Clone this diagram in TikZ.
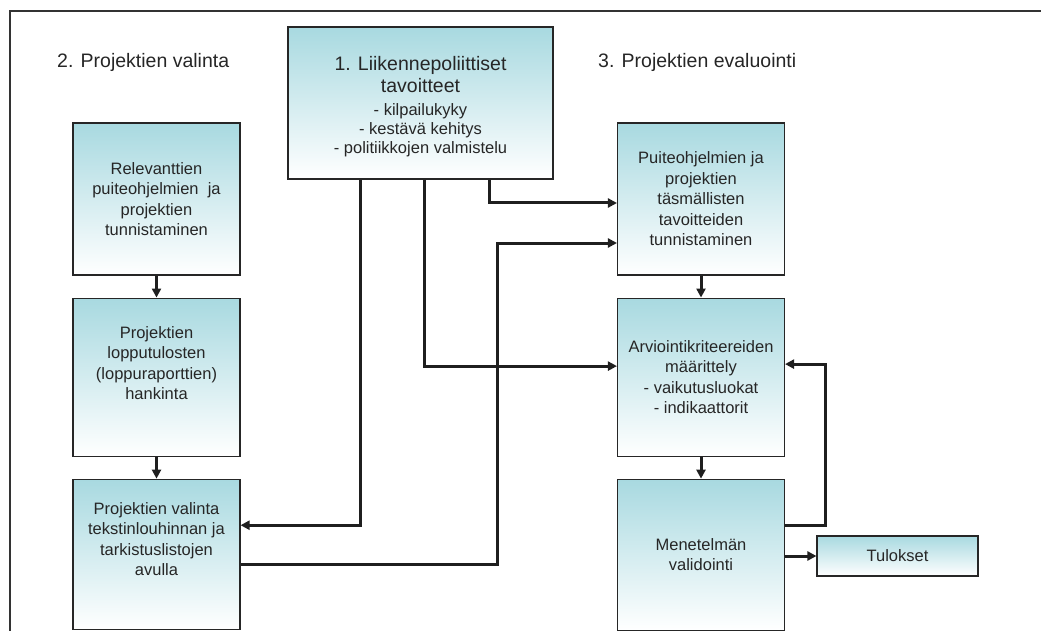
\documentclass[tikz,border=0pt]{standalone}
\usepackage{fontspec}
\setmainfont{Liberation Sans}
\usepackage{xcolor}
\usetikzlibrary{arrows.meta, positioning, calc}

\definecolor{boxteal}{RGB}{168,217,224}
\definecolor{inkgray}{RGB}{38,38,38}
\newcommand{\subsize}{\fontsize{16.5}{19}\selectfont}

\begin{document}
\begin{tikzpicture}[
        x=1pt, y=-1pt,
        node distance=22pt,
        box/.style={rectangle, draw=inkgray, line width=1.1pt, top color=boxteal, bottom color=white,
                    minimum width=167pt, minimum height=152pt, align=center, text=inkgray,
                    font=\fontsize{16.5}{20.5}\selectfont, inner sep=0pt},
        heading/.style={anchor=base west, text=inkgray, font=\fontsize{19.5}{23}\selectfont, inner sep=0pt},
        link/.style={line width=3pt, draw=black!88},
        arrow/.style={link, ->},
        >={Triangle[length=9pt, width=9pt]}
    ]
    \useasboundingbox (0,0) rectangle (1041,631);

    % frame
    \draw[line width=1.4pt, black!80] (10,631) -- (10,11) -- (1041,11);

    \node (valinta) [heading] at (57,68) {2. Projektien valinta};
    \node (evaluointi) [heading] at (598,68) {3. Projektien evaluointi};

    \node (goals) [box, minimum width=265pt, minimum height=152pt,
                   font=\fontsize{19.5}{22}\selectfont] at (420.5,103)
        {\rule{0pt}{21pt}1. Liikennepoliittiset\\tavoitteet\\[1pt]
         \subsize - kilpailukyky\\[-3pt]\subsize - kestävä kehitys\\[-3pt]\subsize - politiikkojen valmistelu};

    % left column
    \node (ident) [box] at (156.5,199) {Relevanttien\\puiteohjelmien\ \ ja\\projektien\\tunnistaminen};
    \node (hank) [box, below=of ident, minimum height=158pt] {Projektien\\lopputulosten\\(loppuraporttien)\\hankinta\\[8pt]};
    \node (valin) [box, below=of hank, minimum height=150pt] {Projektien valinta\\tekstinlouhinnan ja\\tarkistuslistojen\\avulla\\[10pt]};

    % right column
    \node (tavoit) [box] at (701,199) {Puiteohjelmien ja\\projektien\\täsmällisten\\tavoitteiden\\tunnistaminen};
    \node (krit) [box, below=of tavoit, minimum height=158pt] {Arviointikriteereiden\\määrittely\\- vaikutusluokat\\- indikaattorit};
    \node (valid) [box, below=of krit, minimum height=151pt] {Menetelmän\\validointi};
    \node (tulos) [box, minimum width=161pt, minimum height=40pt] at (897.5,556) {Tulokset};

    \draw[arrow] (ident) -- (hank);
    \draw[arrow] (hank) -- (valin);
    \draw[arrow] (tavoit) -- (krit);
    \draw[arrow] (krit) -- (valid);

    \draw[arrow] ([xshift=-60.5pt]goals.south) |- ([yshift=29pt]valin.east);
    \draw[arrow] ([xshift=3.5pt]goals.south) |- ([yshift=11pt]krit.east -| krit.west);
    \draw[arrow] ([xshift=68.5pt]goals.south) |- ([yshift=-4pt]tavoit.west);
    \draw[arrow] ([yshift=-10pt]valin.east) -- ++(257,0) |- ([yshift=-44pt]tavoit.west);
    \draw[arrow] ([yshift=29pt]valid.east) -- ++(40,0) |- ([yshift=13pt]krit.east);
    \draw[arrow] (tulos.west -| valid.east) -- (tulos.west);

\end{tikzpicture}
\end{document}
